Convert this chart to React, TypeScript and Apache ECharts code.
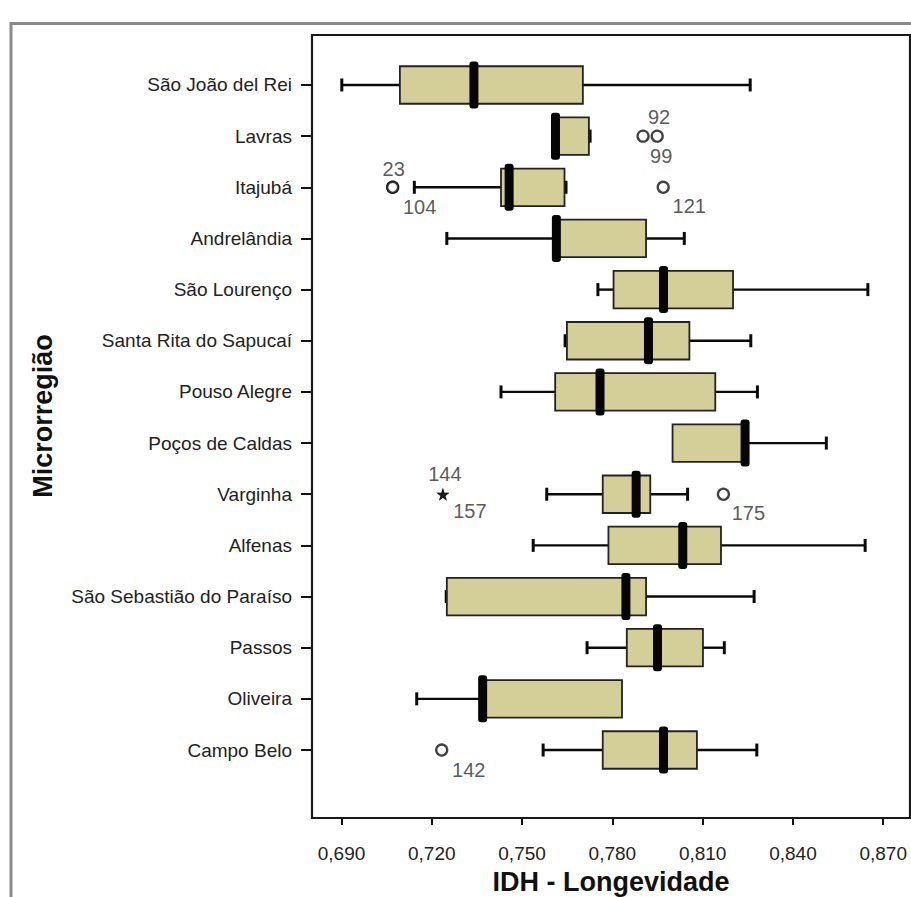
import React, { useEffect, useRef } from 'react';
import * as echarts from 'echarts';

const categories = [
  'São João del Rei',
  'Lavras',
  'Itajubá',
  'Andrelândia',
  'São Lourenço',
  'Santa Rita do Sapucaí',
  'Pouso Alegre',
  'Poços de Caldas',
  'Varginha',
  'Alfenas',
  'São Sebastião do Paraíso',
  'Passos',
  'Oliveira',
  'Campo Belo',
];

const whiskerLow = [0.6901, 0.7610, 0.7142, 0.7250, 0.7752, 0.7643, 0.7430, 0.8000, 0.7582, 0.7537, 0.7248, 0.7716, 0.7150, 0.7570];
const quartile1 = [0.7094, 0.7610, 0.7430, 0.7603, 0.7804, 0.7649, 0.7610, 0.8000, 0.7768, 0.7787, 0.7250, 0.7848, 0.7369, 0.7768];
const medians = [0.7340, 0.7611, 0.7457, 0.7614, 0.7970, 0.7920, 0.7759, 0.8241, 0.7879, 0.8034, 0.7845, 0.7950, 0.7369, 0.7970];
const quartile3 = [0.7702, 0.7722, 0.7641, 0.7912, 0.8201, 0.8056, 0.8142, 0.8243, 0.7926, 0.8161, 0.7912, 0.8101, 0.7832, 0.8081];
const whiskerHigh = [0.8258, 0.7726, 0.7646, 0.8039, 0.8649, 0.8260, 0.8282, 0.8511, 0.8050, 0.8640, 0.8271, 0.8172, 0.7832, 0.8280];

const outlierCategory = ['Lavras', 'Lavras', 'Itajubá', 'Itajubá', 'Itajubá', 'Varginha', 'Varginha', 'Varginha', 'Campo Belo'];
const outlierValue = [0.7902, 0.7949, 0.7070, 0.7070, 0.7969, 0.7237, 0.7237, 0.8169, 0.7233];
const outlierCase = ['92', '99', '23', '104', '121', '144', '157', '175', '142'];
const outlierExtreme = [false, false, false, false, false, true, true, false, false];

const xTickValues = [0.69, 0.72, 0.75, 0.78, 0.81, 0.84, 0.87];

const xAxisTitle = 'IDH - Longevidade';
const yAxisTitle = 'Microrregião';

// label placement (pixels, relative to the point)
const LABEL_OFFSET: Record<string, [number, number]> = {
  '92': [16, -19],
  '99': [4, 20],
  '23': [1, -18],
  '104': [27, 20],
  '121': [26, 19],
  '144': [2, -20],
  '157': [27, 17],
  '175': [25, 19],
  '142': [27, 20],
};

const FONT = "'Liberation Sans', Arial, Helvetica, sans-serif";
const STAR = 'path://M50,0 L61,35 L98,35 L68,57 L79,91 L50,70 L21,91 L32,57 L2,35 L39,35 Z';

export default function App() {
  const ref = useRef<HTMLDivElement>(null);

  useEffect(() => {
    if (!ref.current) return;
    const chart = echarts.init(ref.current, undefined, { renderer: 'svg' });

    const boxData = categories.map((_, i) => [
      i,
      whiskerLow[i],
      quartile1[i],
      medians[i],
      quartile3[i],
      whiskerHigh[i],
    ]);

    const outlierData = outlierValue.map((v, i) => {
      const id = outlierCase[i];
      const extreme = outlierExtreme[i];
      return {
        value: [v, categories.indexOf(outlierCategory[i])],
        symbol: extreme ? STAR : 'circle',
        symbolSize: extreme ? 13 : 11,
        itemStyle: extreme
          ? { color: '#111', borderWidth: 0 }
          : { color: '#fff', borderColor: '#111', borderWidth: 2.3 },
        label: {
          show: true,
          formatter: id,
          position: 'inside',
          offset: LABEL_OFFSET[id],
          color: '#2e2e2e',
          fontSize: 20,
          fontFamily: FONT,
          align: 'center',
          verticalAlign: 'middle',
          textBorderWidth: 0,
        },
      };
    });

    const gridTop = 59.4;
    const gridBottomPx = 775.6;

    chart.setOption({
      animation: false,
      backgroundColor: '#fff',
      grid: {
        left: 312,
        right: 1,
        top: gridTop,
        bottom: 897 - gridBottomPx,
        containLabel: false,
        outerBoundsMode: 'none',
      },
      xAxis: {
        type: 'value',
        min: 0.6802,
        max: 0.8789,
        offset: 818 - gridBottomPx,
        axisLine: { show: false },
        splitLine: { show: false },
        axisTick: {
          show: true,
          customValues: xTickValues,
          length: 7,
          lineStyle: { color: '#111', width: 2 },
        },
        axisLabel: {
          customValues: xTickValues,
          margin: 26,
          fontSize: 19,
          fontFamily: FONT,
          color: '#222',
          formatter: (v: number) => v.toFixed(3).replace('.', ','),
        },
      },
      yAxis: {
        type: 'category',
        data: categories,
        inverse: true,
        axisLine: { show: false },
        splitLine: { show: false },
        axisTick: {
          show: true,
          alignWithLabel: true,
          length: 11,
          lineStyle: { color: '#111', width: 2 },
        },
        axisLabel: {
          margin: 20,
          fontSize: 19,
          fontFamily: FONT,
          color: '#222',
        },
      },
      series: [
        {
          type: 'custom',
          clip: false,
          data: boxData,
          encode: { x: [1, 2, 3, 4, 5], y: 0 },
          renderItem: (params: any, api: any) => {
            const cat = api.value(0);
            const low = api.value(1);
            const q1 = api.value(2);
            const med = api.value(3);
            const q3 = api.value(4);
            const high = api.value(5);
            const pLow = api.coord([low, cat]);
            const pQ1 = api.coord([q1, cat]);
            const pMed = api.coord([med, cat]);
            const pQ3 = api.coord([q3, cat]);
            const pHigh = api.coord([high, cat]);
            const y = pLow[1];
            const boxH = 37.5;
            const medH = 47;
            const medW = 9;
            const capH = 13;
            const capW = 3;
            const children: any[] = [];
            if (low < q1) {
              children.push({
                type: 'line',
                shape: { x1: pLow[0], y1: y, x2: pQ1[0], y2: y },
                style: { stroke: '#0a0a0a', lineWidth: 2.4 },
              });
              children.push({
                type: 'rect',
                shape: { x: pLow[0] - capW / 2, y: y - capH / 2, width: capW, height: capH },
                style: { fill: '#0a0a0a' },
              });
            }
            if (high > q3) {
              children.push({
                type: 'line',
                shape: { x1: pQ3[0], y1: y, x2: pHigh[0], y2: y },
                style: { stroke: '#0a0a0a', lineWidth: 2.4 },
              });
              children.push({
                type: 'rect',
                shape: { x: pHigh[0] - capW / 2, y: y - capH / 2, width: capW, height: capH },
                style: { fill: '#0a0a0a' },
              });
            }
            children.push({
              type: 'rect',
              shape: { x: pQ1[0], y: y - boxH / 2, width: Math.max(pQ3[0] - pQ1[0], 0.5), height: boxH },
              style: { fill: '#d4cf98', stroke: '#222', lineWidth: 1.8 },
            });
            children.push({
              type: 'rect',
              shape: { x: pMed[0] - medW / 2, y: y - medH / 2, width: medW, height: medH, r: 3 },
              style: { fill: '#050505' },
            });
            return { type: 'group', children };
          },
          z: 2,
        },
        {
          type: 'scatter',
          data: outlierData,
          z: 3,
        },
      ],
      graphic: [
        {
          type: 'polyline',
          shape: { points: [[11, 897], [11, 23.5], [911, 23.5]] },
          style: { stroke: '#8a8a8a', lineWidth: 3, fill: 'none' },
          z: 10,
        },
        {
          type: 'rect',
          shape: { x: 312, y: 35, width: 598, height: 783 },
          style: { fill: 'none', stroke: '#1a1a1a', lineWidth: 2.2 },
          z: 10,
        },
        {
          type: 'text',
          x: 611,
          y: 882,
          style: {
            text: xAxisTitle,
            font: `bold 27px ${FONT}`,
            fill: '#111',
            align: 'center',
            verticalAlign: 'middle',
          },
          z: 10,
        },
        {
          type: 'text',
          x: 43,
          y: 416,
          rotation: Math.PI / 2,
          style: {
            text: yAxisTitle,
            font: `bold 27px ${FONT}`,
            fill: '#111',
            align: 'center',
            verticalAlign: 'middle',
          },
          z: 10,
        },
      ],
    });

    return () => chart.dispose();
  }, []);

  return (
    <div
      ref={ref}
      style={{ position: 'fixed', left: 0, top: 0, width: 911, height: 897, background: '#fff' }}
    />
  );
}
